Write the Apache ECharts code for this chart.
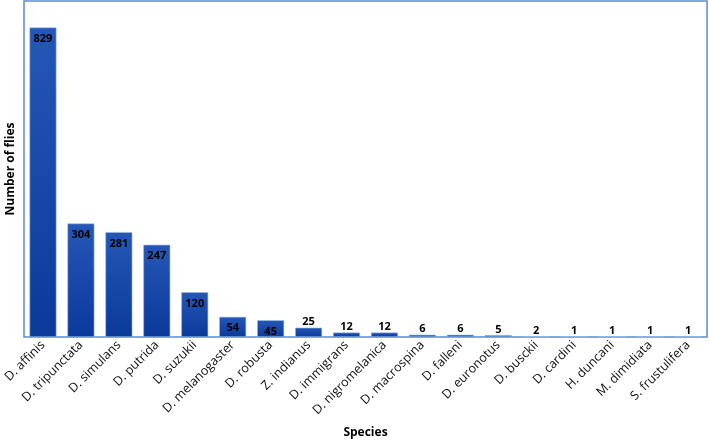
<!DOCTYPE html>
<html><head><meta charset="utf-8">
<script src="https://cdn.jsdelivr.net/npm/echarts@6/dist/echarts.min.js"></script>
<style>html,body{margin:0;padding:0;background:#fff}#c{width:709px;height:441px}</style>
</head><body><div id="c"></div>
<script>
const categories = ["D. affinis","D. tripunctata","D. simulans","D. putrida","D. suzukii","D. melanogaster","D. robusta","Z. indianus","D. immigrans","D. nigromelanica","D. macrospina","D. falleni","D. euronotus","D. busckii","D. cardini","H. duncani","M. dimidiata","S. frustulifera"];
const values = [829,304,281,247,120,54,45,25,12,12,6,6,5,2,1,1,1,1];

const font = "Open Sans, Liberation Sans, sans-serif";
const chart = echarts.init(document.getElementById('c'));
chart.setOption({
  animation: false,
  grid: {left: 24, right: 2, top: 1, bottom: 104, show: true, borderColor: '#5b8ad0', borderWidth: 1.5, containLabel: false, outerBoundsMode: 'none'},
  xAxis: {
    type: 'category', data: categories,
    name: 'Species', nameLocation: 'middle', nameGap: 90,
    nameTextStyle: {fontFamily: font, fontWeight: 'bold', fontSize: 12, color: '#000'},
    axisLine: {show: false}, axisTick: {show: false},
    axisLabel: {rotate: 45, interval: 0, fontFamily: font, fontSize: 12.5, color: '#111', margin: 6}
  },
  yAxis: {
    type: 'value', min: 0, max: 900,
    name: 'Number of flies', nameLocation: 'middle', nameGap: 7,
    nameTextStyle: {fontFamily: font, fontWeight: 'bold', fontSize: 12, color: '#000'},
    axisLine: {show: false}, axisTick: {show: false}, axisLabel: {show: false}, splitLine: {show: false}
  },
  series: [{
    type: 'bar', barWidth: '71%',
    data: values.map(v => ({value: v, label: {position: v < 40 ? 'top' : 'insideTop', distance: v < 40 ? 0 : 6}})),
    itemStyle: {
      color: new echarts.graphic.LinearGradient(0,0,0,1,[{offset:0,color:'#2557b6'},{offset:1,color:'#0a399a'}]),
      borderColor: '#9dbbe8', borderWidth: 0.6
    },
    label: {show: true, fontFamily: font, fontWeight: 'bold', fontSize: 11, color: '#000'}
  }]
});
</script></body></html>
